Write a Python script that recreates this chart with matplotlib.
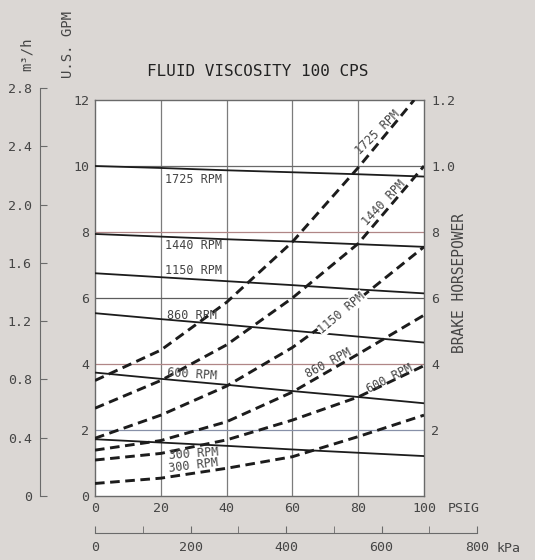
# Pump performance chart, fluid viscosity 100 cps

import matplotlib.pyplot as plt
from matplotlib.ticker import MultipleLocator

# pressure (psig) at which the curves were read
psig = [0, 20, 40, 60, 80, 100]

# capacity, U.S. GPM (solid lines)
gpm_1725 = [10.0, 9.94, 9.87, 9.81, 9.75, 9.68]
gpm_1440 = [7.94, 7.86, 7.78, 7.71, 7.63, 7.55]
gpm_1150 = [6.75, 6.63, 6.51, 6.39, 6.26, 6.14]
gpm_860 = [5.54, 5.36, 5.19, 5.01, 4.83, 4.65]
gpm_600 = [3.74, 3.55, 3.37, 3.18, 3.00, 2.81]
gpm_300 = [1.72, 1.62, 1.52, 1.41, 1.31, 1.21]

# brake horsepower x 10 (dashed lines)
bhp_1725_psig = [0, 20, 40, 60, 80, 97]
bhp_1725 = [3.5, 4.42, 5.87, 7.7, 9.95, 12.0]
bhp_1440 = [2.66, 3.5, 4.58, 6.0, 7.65, 10.0]
bhp_1150 = [1.75, 2.45, 3.33, 4.5, 5.95, 7.55]
bhp_860 = [1.39, 1.68, 2.25, 3.15, 4.3, 5.48]
bhp_600 = [1.09, 1.29, 1.7, 2.3, 3.0, 3.95]
bhp_300 = [0.38, 0.54, 0.84, 1.19, 1.8, 2.45]

gpm_ticks = [0, 2, 4, 6, 8, 10, 12]
bhp_ticks = [2, 4, 6, 8, 10, 12]
bhp_labels = ['2', '4', '6', '8', '1.0', '1.2']
m3h_ticks = [0, 0.4, 0.8, 1.2, 1.6, 2.0, 2.4, 2.8]
m3h_labels = ['0', '0.4', '0.8', '1.2', '1.6', '2.0', '2.4', '2.8']
psig_ticks = [0, 20, 40, 60, 80, 100]
kpa_ticks = [0, 200, 400, 600, 800]

bg = '#dbd7d4'
ink = '#1c1c1c'
txt = '#454545'
mono = 'DejaVu Sans Mono'

W, H = 535, 560
fig = plt.figure(figsize=(W / 100, H / 100), dpi=100, facecolor=bg)

ax = fig.add_axes([95 / W, 64 / H, 329 / W, 396 / H])
ax.set_facecolor('white')
ax.set_xlim(0, 100)
ax.set_ylim(0, 12)
for s in ax.spines.values():
    s.set_color('#6a6a6a')
    s.set_linewidth(1.0)

# grid
for x in [20, 40, 60, 80]:
    ax.axvline(x, color='#7c7c7c', lw=0.9, zorder=1)
grid_colors = {2: '#8790a8', 4: '#b08686', 6: '#5c5c5c', 8: '#b08686', 10: '#6a6a6a'}
for y, c in grid_colors.items():
    ax.axhline(y, color=c, lw=0.9, zorder=1)

for g in [gpm_1725, gpm_1440, gpm_1150, gpm_860, gpm_600, gpm_300]:
    ax.plot(psig, g, color=ink, lw=1.3, zorder=3)

dash = dict(color=ink, lw=2.1, dashes=(3.3, 1.9), zorder=3)
ax.plot(bhp_1725_psig, bhp_1725, **dash)
for b in [bhp_1440, bhp_1150, bhp_860, bhp_600, bhp_300]:
    ax.plot(psig, b, **dash)

# labels on the solid lines
lab = dict(fontsize=8.5, family=mono, color=txt, zorder=4)
ax.text(21.3, 9.6, '1725 RPM', va='center', ha='left', **lab)
ax.text(21.3, 7.58, '1440 RPM', va='center', ha='left', **lab)
ax.text(21.3, 6.82, '1150 RPM', va='center', ha='left', **lab)
ax.text(22.0, 5.48, '860 RPM', va='center', ha='left', **lab)
ax.text(21.8, 3.70, '600 RPM', va='center', ha='left', rotation=-4, **lab)
ax.text(22.2, 1.27, '300 RPM', va='center', ha='left', rotation=4, **lab)
ax.text(22.2, 0.92, '300 RPM', va='center', ha='left', rotation=7, **lab)

# labels on the dashed lines
box = dict(fc='white', ec='none', pad=0.3)
ax.text(86.0, 11.03, '1725 RPM', va='center', ha='center', rotation=45, **lab)
ax.text(87.8, 8.88, '1440 RPM', va='center', ha='center', rotation=47, **lab)
ax.text(75.0, 5.54, '1150 RPM', va='center', ha='center', rotation=40, bbox=box, **lab)
ax.text(70.8, 4.02, '860 RPM', va='center', ha='center', rotation=28, **lab)
ax.text(89.7, 3.55, '600 RPM', va='center', ha='center', rotation=27, **lab)

tick_font = dict(family=mono, size=9.5, color=txt)
ax.set_yticks(gpm_ticks)
ax.set_yticklabels([str(t) for t in gpm_ticks], **tick_font)
ax.set_xticks(psig_ticks)
ax.set_xticklabels([str(t) for t in psig_ticks], **tick_font)
ax.tick_params(axis='both', length=0, pad=4)

# right axis, brake horsepower
ax2 = ax.twinx()
ax2.set_ylim(0, 12)
ax2.set_yticks(bhp_ticks)
ax2.set_yticklabels(bhp_labels, **tick_font)
ax2.tick_params(axis='y', length=0, pad=5)
for s in ax2.spines.values():
    s.set_visible(False)

# left axis, m3/h
ax3 = fig.add_axes([40 / W, 64 / H, 0.0001, 408 / H])
ax3.set_ylim(0, 2.8)
ax3.patch.set_visible(False)
for k in ['top', 'right', 'bottom']:
    ax3.spines[k].set_visible(False)
ax3.spines['left'].set_color('#6a6a6a')
ax3.set_xticks([])
ax3.set_yticks(m3h_ticks)
ax3.set_yticklabels(m3h_labels, **tick_font)
ax3.tick_params(axis='y', direction='in', length=5, color='#6a6a6a', pad=6)

# bottom axis, kPa
ax4 = fig.add_axes([95 / W, 27 / H, 382 / W, 0.0001])
ax4.set_xlim(0, 800)
ax4.patch.set_visible(False)
for k in ['top', 'right', 'left']:
    ax4.spines[k].set_visible(False)
ax4.spines['bottom'].set_color('#6a6a6a')
ax4.set_yticks([])
ax4.set_xticks(kpa_ticks)
ax4.set_xticklabels([str(t) for t in kpa_ticks], **tick_font)
ax4.xaxis.set_minor_locator(MultipleLocator(100))
ax4.tick_params(axis='x', which='both', direction='in', length=5, color='#6a6a6a', pad=6)

# axis titles
fig.text(448 / W, 1 - 508 / H, 'PSIG', ha='left', va='center', **tick_font)
fig.text(496 / W, 1 - 548 / H, 'kPa', ha='left', va='center', **tick_font)
fig.text(258 / W, 1 - 71 / H, 'FLUID VISCOSITY 100 CPS', ha='center', va='center',
         family=mono, size=11.5, color='#222222')
fig.text(68 / W, 1 - 45 / H, 'U.S. GPM', rotation=90, ha='center', va='center',
         family=mono, size=10, color=txt)
fig.text(27 / W, 1 - 54 / H, 'm³/h', rotation=90, ha='center', va='center',
         family=mono, size=10, color=txt)
fig.text(460 / W, 1 - 283 / H, 'BRAKE HORSEPOWER', rotation=90, ha='center', va='center',
         family=mono, size=10.5, color=txt)

fig.savefig('out.png', dpi=100, facecolor=bg)
